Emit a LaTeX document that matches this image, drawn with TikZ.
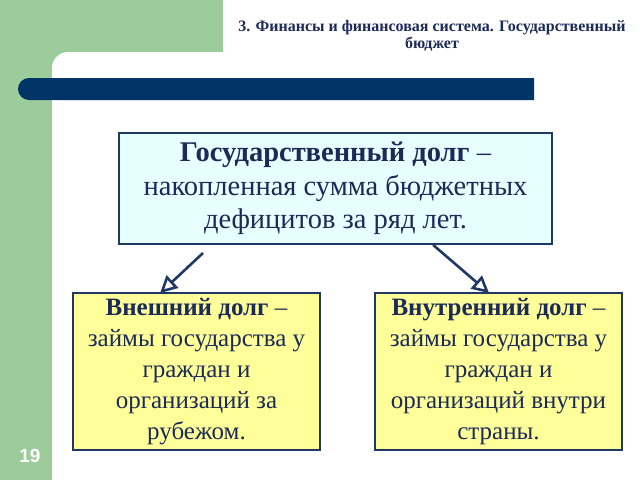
\documentclass[tikz,border=0pt]{standalone}
\usepackage{fontspec}
\setmainfont{Liberation Serif}
\newfontfamily\numfont{Liberation Sans}
\usetikzlibrary{arrows.meta,calc}

\definecolor{slidegreen}{HTML}{9CCC9A}
\definecolor{barnavy}{HTML}{003366}
\definecolor{inknavy}{HTML}{1B2A57}
\definecolor{boxline}{HTML}{1F3864}
\definecolor{cyanfill}{HTML}{E6FFFF}
\definecolor{yellowfill}{HTML}{FFFF99}

\tikzset{
  mainbox/.style={draw=boxline, line width=1.8pt, fill=cyanfill, text=inknavy,
    minimum width=433pt, minimum height=111pt, inner sep=0pt,
    align=center, font=\fontsize{28.5}{33.5}\selectfont},
  debtbox/.style={draw=boxline, line width=1.8pt, fill=yellowfill, text=inknavy,
    minimum width=247pt, minimum height=157pt, inner sep=0pt,
    align=center, font=\fontsize{25}{31}\selectfont},
  debtarrow/.style={draw=boxline, line width=2.6pt,
    -{Triangle[open, length=17pt, width=17pt, fill=white]}}
}

\begin{document}
\begin{tikzpicture}[x=1pt, y=-1pt]
\useasboundingbox (0,0) rectangle (640,480);

% background of the slide
\fill[slidegreen] (0,0) rectangle (223,52);
\fill[slidegreen] (0,0) rectangle (52,480);
\fill[slidegreen] (52,52) rectangle (75,75);
\fill[white, rounded corners=16pt] (52,52) rectangle (300,300);
\fill[barnavy] (534,78) [rounded corners=11pt] -- (18,78) -- (18,100) [sharp corners] -- (534,100) -- cycle;

\node[text=inknavy, align=center, font=\fontsize{16}{16.5}\selectfont\bfseries] (title) at (432,36)
  {3. Финансы и финансовая система. Государственный\\бюджет};
\node[text=white, font=\numfont\fontsize{19}{20}\selectfont\bfseries] (num) at (30,456) {19};

% boxes
\node[mainbox] (gosdolg) at (335.5,188.5)
  {\textbf{Государственный долг} –\\накопленная сумма бюджетных\\дефицитов за ряд лет.};
\node[debtbox] (vnesh) at (196.5,371.5)
  {\textbf{Внешний долг} –\\займы государства у\\граждан и\\организаций за\\рубежом.};
\node[debtbox] (vnutr) at (498.5,371.5)
  {\textbf{Внутренний долг} –\\займы государства у\\граждан и\\организаций внутри\\страны.};

% arrows
\coordinate (lstart) at (203,253);
\draw[debtarrow] (lstart) -- ([xshift=88pt,yshift=-1pt]vnesh.north west);
\draw[debtarrow] ([xshift=315pt]gosdolg.south west) -- ([xshift=115pt,yshift=-1pt]vnutr.north west);
\end{tikzpicture}
\end{document}
